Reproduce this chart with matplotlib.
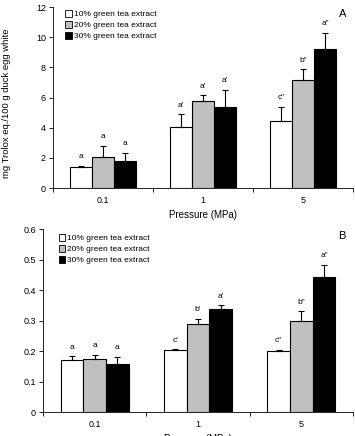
import matplotlib
matplotlib.use("Agg")
import matplotlib.pyplot as plt
import numpy as np

pressures = ["0.1", "1", "5"]
series = ["10% green tea extract", "20% green tea extract", "30% green tea extract"]
colors = ["white", "#c0c0c0", "black"]

# Panel A
a_vals = [[1.38, 4.05, 4.44], [2.08, 5.75, 7.17], [1.80, 5.38, 9.20]]
a_err = [[0.09, 0.83, 0.96], [0.72, 0.40, 0.70], [0.52, 1.14, 1.10]]
a_lab = [["a", "a'", 'c"'], ["a", "a'", 'b"'], ["a", "a'", 'a"']]

# Panel B
b_vals = [[0.172, 0.204, 0.199], [0.173, 0.288, 0.298], [0.158, 0.338, 0.441]]
b_err = [[0.010, 0.002, 0.005], [0.014, 0.017, 0.032], [0.023, 0.012, 0.041]]
b_lab = [["a", "c'", 'c"'], ["a", "b'", 'b"'], ["a", "a'", 'a"']]

plt.rcParams['font.family'] = ['Liberation Sans', 'DejaVu Sans']

fig = plt.figure(figsize=(3.55, 4.36), dpi=100)
W, H = 355, 436
axA = fig.add_axes([53 / W, 1 - 188 / H, 300 / W, 181 / H])
axB = fig.add_axes([43 / W, 1 - 412 / H, 310 / W, 183 / H])

def draw(ax, vals, errs, labs, ylim, yticks, yticklabels, letter, leg_pos):
    x = np.arange(len(pressures))
    w = 0.22
    for i in range(3):
        xs = x + (i - 1) * w
        ax.bar(xs, vals[i], w, color=colors[i], edgecolor="black", linewidth=0.8,
               label=series[i], zorder=2)
        ax.errorbar(xs, vals[i], yerr=[np.zeros(3), errs[i]], fmt="none", ecolor="black",
                    elinewidth=0.8, capsize=2, capthick=0.8, zorder=3)
        for xx, v, e, l in zip(xs, vals[i], errs[i], labs[i]):
            ax.annotate(l, (xx, v + e), xytext=(0, 4), textcoords="offset points",
                        ha="center", va="bottom", fontsize=6)
    ax.set_xlim(-0.5, 2.5)
    ax.set_ylim(*ylim)
    ax.set_yticks(yticks)
    ax.set_yticklabels(yticklabels, fontsize=6.5)
    ax.set_xticks([-0.5, 0.5, 1.5, 2.5])
    ax.set_xticklabels([])
    ax.set_xticks(x, minor=True)
    ax.set_xticklabels(pressures, minor=True, fontsize=6.5)
    ax.tick_params(axis="x", which="minor", length=0, pad=6)
    ax.tick_params(axis="x", which="major", length=3, width=0.6, direction="out")
    ax.tick_params(axis="y", length=3, width=0.6, direction="out", pad=2)
    for s in ["top", "right"]:
        ax.spines[s].set_visible(False)
    for s in ["left", "bottom"]:
        ax.spines[s].set_linewidth(0.6)
    ax.set_xlabel("Pressure (MPa)", fontsize=7, labelpad=3)
    ax.text(0.965, 0.99, letter, transform=ax.transAxes, ha="center", va="top", fontsize=8)
    leg = ax.legend(loc="upper left", bbox_to_anchor=leg_pos, frameon=False, fontsize=6,
                    handlelength=0.8, handleheight=0.8, handletextpad=0.2, labelspacing=0.35,
                    borderaxespad=0)
    for p in leg.get_patches():
        p.set_linewidth(0.6)

draw(axA, a_vals, a_err, a_lab, (0, 12), [0, 2, 4, 6, 8, 10, 12],
     ["0", "2", "4", "6", "8", "10", "12"], "A", (0.03, 1.0))
draw(axB, b_vals, b_err, b_lab, (0, 0.6), [0, 0.1, 0.2, 0.3, 0.4, 0.5, 0.6],
     ["0", "0.1", "0.2", "0.3", "0.4", "0.5", "0.6"], "B", (0.04, 0.99))

axA.set_ylabel("mg Trolox eq./100 g duck egg white", fontsize=6.8)
axA.yaxis.set_label_coords(-0.14, 0.47)

fig.savefig("out.png", dpi=100)
